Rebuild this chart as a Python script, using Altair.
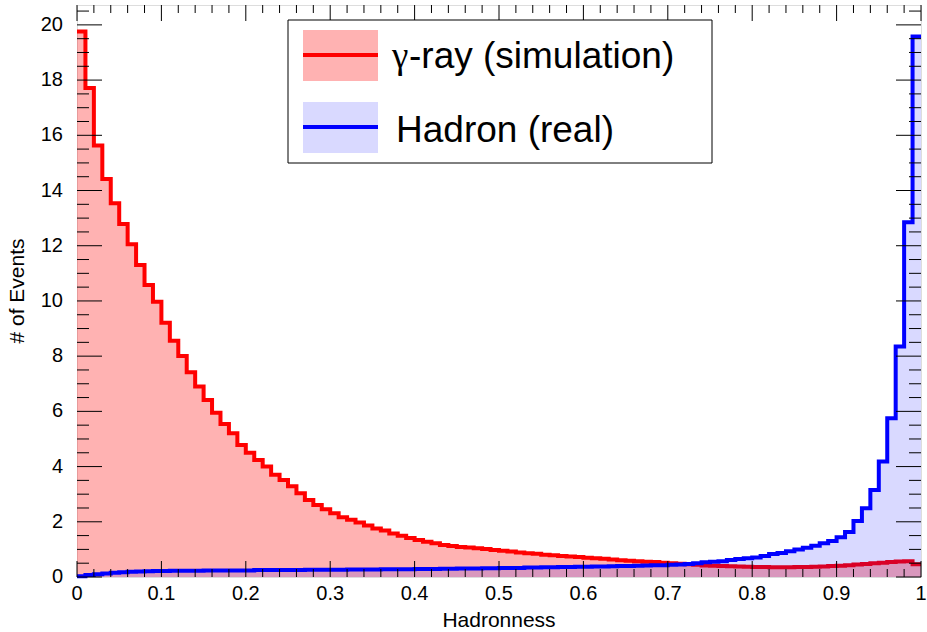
import altair as alt
import pandas as pd

# ---------------- data ----------------
gamma = [19.76, 17.71, 15.63, 14.42, 13.54, 12.79, 12.05, 11.30, 10.58, 9.97,
         9.21, 8.56, 8.01, 7.42, 6.90, 6.41, 5.95, 5.54, 5.21, 4.78,
         4.50, 4.24, 4.00, 3.70, 3.51, 3.29, 3.03, 2.79, 2.61, 2.45,
         2.31, 2.16, 2.07, 1.97, 1.87, 1.76, 1.68, 1.58, 1.49, 1.41,
         1.34, 1.28, 1.22, 1.16, 1.12, 1.09, 1.07, 1.04, 1.01, 0.98,
         0.95, 0.92, 0.89, 0.86, 0.84, 0.81, 0.79, 0.76, 0.74, 0.72,
         0.70, 0.68, 0.66, 0.63, 0.61, 0.59, 0.57, 0.55, 0.54, 0.52,
         0.50, 0.48, 0.46, 0.44, 0.42, 0.41, 0.40, 0.39, 0.38, 0.37,
         0.36, 0.36, 0.35, 0.35, 0.35, 0.36, 0.36, 0.37, 0.38, 0.40,
         0.41, 0.43, 0.45, 0.47, 0.50, 0.52, 0.54, 0.56, 0.57, 0.46]

hadron = [0.03, 0.07, 0.10, 0.13, 0.15, 0.17, 0.19, 0.20, 0.21, 0.22,
          0.22, 0.23, 0.23, 0.23, 0.23, 0.24, 0.24, 0.24, 0.24, 0.24,
          0.24, 0.25, 0.25, 0.25, 0.25, 0.25, 0.25, 0.26, 0.26, 0.26,
          0.26, 0.26, 0.27, 0.27, 0.27, 0.27, 0.28, 0.28, 0.28, 0.28,
          0.29, 0.29, 0.29, 0.30, 0.30, 0.31, 0.31, 0.31, 0.32, 0.32,
          0.33, 0.33, 0.33, 0.34, 0.34, 0.35, 0.35, 0.36, 0.36, 0.37,
          0.37, 0.38, 0.38, 0.39, 0.40, 0.40, 0.41, 0.42, 0.43, 0.43,
          0.44, 0.45, 0.47, 0.50, 0.53, 0.55, 0.57, 0.62, 0.65, 0.68,
          0.71, 0.76, 0.83, 0.87, 0.93, 1.00, 1.06, 1.13, 1.22, 1.30,
          1.44, 1.63, 2.03, 2.49, 3.15, 4.18, 5.75, 8.35, 12.85, 19.58]

x_major = [0, 0.1, 0.2, 0.3, 0.4, 0.5, 0.6, 0.7, 0.8, 0.9, 1.0]
x_labels = ["0", "0.1", "0.2", "0.3", "0.4", "0.5", "0.6", "0.7", "0.8", "0.9", "1"]
x_minor = [0.02, 0.04, 0.06, 0.08, 0.12, 0.14, 0.16, 0.18, 0.22, 0.24, 0.26, 0.28,
           0.32, 0.34, 0.36, 0.38, 0.42, 0.44, 0.46, 0.48, 0.52, 0.54, 0.56, 0.58,
           0.62, 0.64, 0.66, 0.68, 0.72, 0.74, 0.76, 0.78, 0.82, 0.84, 0.86, 0.88,
           0.92, 0.94, 0.96, 0.98]
y_major = [0, 2, 4, 6, 8, 10, 12, 14, 16, 18, 20]
y_labels = ["0", "2", "4", "6", "8", "10", "12", "14", "16", "18", "20"]
y_minor = [0.5, 1, 1.5, 2.5, 3, 3.5, 4.5, 5, 5.5, 6.5, 7, 7.5, 8.5, 9, 9.5,
           10.5, 11, 11.5, 12.5, 13, 13.5, 14.5, 15, 15.5, 16.5, 17, 17.5,
           18.5, 19, 19.5, 20.5]

gamma_symbol = "γ"
series_names = ["-ray (simulation)", "Hadron (real)"]
x_title = "Hadronness"
y_title = "# of Events"

# ---------------- layout ----------------
W, H = 844, 572
YMAX = 20.72
FONT = "Liberation Sans"

edges = [i / 100 for i in range(101)]


def hist_df(vals):
    rows = [{"x": edges[i], "y": vals[i]} for i in range(len(vals))]
    rows.append({"x": edges[-1], "y": vals[-1]})
    return pd.DataFrame(rows)


df_g = hist_df(gamma)
df_h = hist_df(hadron)

xs = alt.Scale(domain=[0, 1], nice=False, zero=False)
ys = alt.Scale(domain=[0, YMAX], nice=False, zero=True)

one = alt.Data(values=[{}])

red_area = alt.Chart(df_g).mark_area(interpolate="step-after", color="#ff0000", opacity=0.3).encode(
    x=alt.X("x:Q", scale=xs, axis=None), y=alt.Y("y:Q", scale=ys, axis=None))
red_line = alt.Chart(df_g).mark_line(interpolate="step-after", color="#ff0000", strokeWidth=4).encode(
    x=alt.X("x:Q", scale=xs, axis=None), y=alt.Y("y:Q", scale=ys, axis=None))
blue_area = alt.Chart(df_h).mark_area(interpolate="step-after", color="#0000ff", opacity=0.15).encode(
    x=alt.X("x:Q", scale=xs, axis=None), y=alt.Y("y:Q", scale=ys, axis=None))
blue_line = alt.Chart(df_h).mark_line(interpolate="step-after", color="#0000ff", strokeWidth=4).encode(
    x=alt.X("x:Q", scale=xs, axis=None), y=alt.Y("y:Q", scale=ys, axis=None))


def xticks(vals, length):
    d = pd.DataFrame({"v": vals})
    bottom = alt.Chart(d).mark_rule(color="black", strokeWidth=1).encode(
        x=alt.X("v:Q", scale=xs, axis=None), y=alt.value(H), y2=alt.value(H - length))
    top = alt.Chart(d).mark_rule(color="black", strokeWidth=1).encode(
        x=alt.X("v:Q", scale=xs, axis=None), y=alt.value(0), y2=alt.value(length))
    return [bottom, top]


def yticks(vals, length):
    d = pd.DataFrame({"v": vals})
    left = alt.Chart(d).mark_rule(color="black", strokeWidth=1).encode(
        y=alt.Y("v:Q", scale=ys, axis=None), x=alt.value(0), x2=alt.value(length))
    right = alt.Chart(d).mark_rule(color="black", strokeWidth=1).encode(
        y=alt.Y("v:Q", scale=ys, axis=None), x=alt.value(W), x2=alt.value(W - length))
    return [left, right]


ticks = xticks(x_major, 16) + xticks(x_minor, 8) + yticks(y_major, 25) + yticks(y_minor, 12)

# tick labels
xl = alt.Chart(pd.DataFrame({"v": x_major, "t": x_labels})).mark_text(
    align="center", baseline="alphabetic", fontSize=20, font=FONT, color="black").encode(
    x=alt.X("v:Q", scale=xs, axis=None), y=alt.value(H + 23), text="t:N")
yl = alt.Chart(pd.DataFrame({"v": y_major, "t": y_labels})).mark_text(
    align="right", baseline="middle", fontSize=20, font=FONT, color="black").encode(
    y=alt.Y("v:Q", scale=ys, axis=None), x=alt.value(-14), text="t:N")

# ---------------- legend ----------------
leg_box = alt.Chart(one).mark_rect(fill="white", stroke="black", strokeWidth=1).encode(
    x=alt.value(211), x2=alt.value(635), y=alt.value(15), y2=alt.value(158))
leg_red_fill = alt.Chart(one).mark_rect(fill="#ff0000", opacity=0.3).encode(
    x=alt.value(226), x2=alt.value(301), y=alt.value(25), y2=alt.value(76))
leg_red_line = alt.Chart(one).mark_rule(color="#ff0000", strokeWidth=4).encode(
    x=alt.value(226), x2=alt.value(301), y=alt.value(50))
leg_blue_fill = alt.Chart(one).mark_rect(fill="#0000ff", opacity=0.15).encode(
    x=alt.value(226), x2=alt.value(301), y=alt.value(97), y2=alt.value(148))
leg_blue_line = alt.Chart(one).mark_rule(color="#0000ff", strokeWidth=4).encode(
    x=alt.value(226), x2=alt.value(301), y=alt.value(122))
leg_g = alt.Chart(one).mark_text(align="left", baseline="middle", fontSize=37, font="Liberation Serif", color="black").encode(
    x=alt.value(315), y=alt.value(52), text=alt.value(gamma_symbol))
leg_t1 = alt.Chart(one).mark_text(align="left", baseline="middle", fontSize=37, font=FONT, color="black").encode(
    x=alt.value(332), y=alt.value(52), text=alt.value(series_names[0]))
leg_t2 = alt.Chart(one).mark_text(align="left", baseline="middle", fontSize=37, font=FONT, color="black").encode(
    x=alt.value(319), y=alt.value(126), text=alt.value(series_names[1]))

# ---------------- axis titles ----------------
xt = alt.Chart(one).mark_text(align="center", baseline="alphabetic", fontSize=21, font=FONT, color="black").encode(
    x=alt.value(W / 2), y=alt.value(622), text=alt.value(x_title))
yt = alt.Chart(one).mark_text(align="center", baseline="middle", fontSize=21, font=FONT, color="black", angle=270).encode(
    x=alt.value(-59), y=alt.value(286), text=alt.value(y_title))

chart = alt.layer(
    red_area, red_line, blue_area, blue_line, *ticks, xl, yl,
    leg_box, leg_red_fill, leg_red_line, leg_blue_fill, leg_blue_line, leg_g, leg_t1, leg_t2,
    xt, yt,
).properties(
    width=W, height=H,
    autosize=alt.AutoSizeParams(type="none"),
    padding={"left": 77, "top": 5, "right": 6, "bottom": 55},
).configure_view(stroke="black", strokeWidth=1).configure(background="white")

chart.save("out.html", embed_options={"renderer": "svg", "actions": False})
